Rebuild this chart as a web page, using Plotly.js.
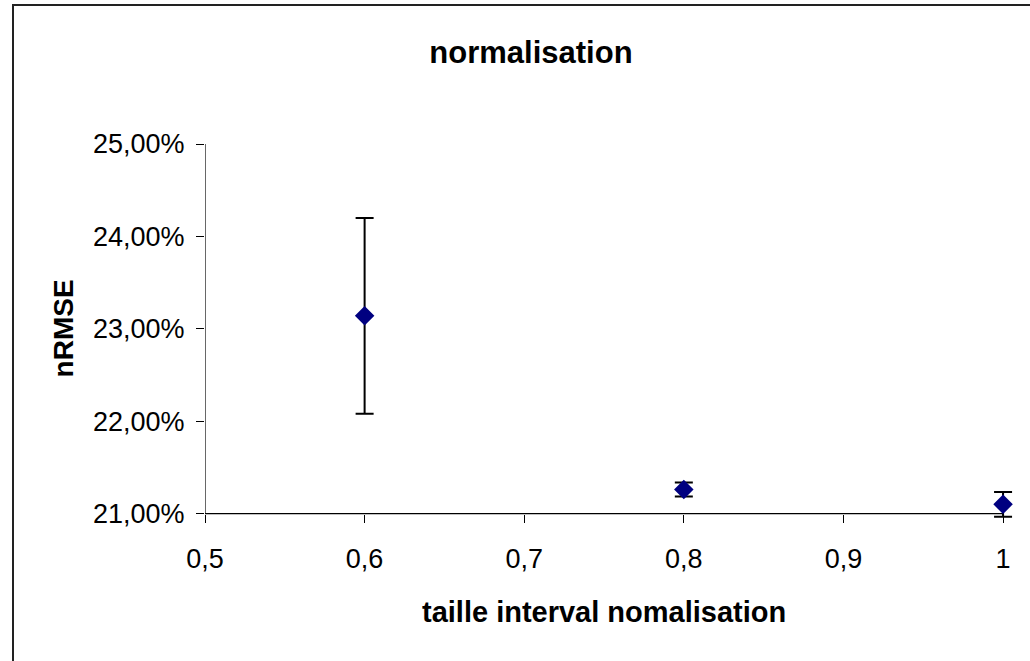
<!DOCTYPE html>
<html>
<head>
<meta charset="utf-8">
<script src="https://cdn.plot.ly/plotly-3.0.1.min.js"></script>
<style>
html,body{margin:0;padding:0;background:#fff;overflow:hidden;}
#wrap{position:relative;width:1030px;height:661px;}
#chart{position:absolute;left:0;top:0;width:1030px;height:661px;}
#frame{position:absolute;left:12px;top:4px;width:1030px;height:700px;border-left:2px solid #222;border-top:2px solid #222;pointer-events:none;}
</style>
</head>
<body>
<div id="wrap"><div id="chart"></div><div id="frame"></div></div>
<script>
const xValues = [0.6, 0.8, 1.0];
const yValues = [0.2314, 0.2126, 0.2110];
const yErrors = [0.0106, 0.00076, 0.00135];
const yTicks = [0.21, 0.22, 0.23, 0.24, 0.25];
const xTicks = [0.5, 0.6, 0.7, 0.8, 0.9, 1.0];

const trace = {
  x: xValues,
  y: yValues,
  type: 'scatter',
  mode: 'markers',
  marker: {symbol: 'diamond', size: 15, color: '#000080'},
  error_y: {type: 'data', array: yErrors, visible: true, color: '#000000', thickness: 2, width: 9},
  showlegend: false,
  cliponaxis: false
};

// extend ranges a little so the error-bar caps at the edges are not clipped
const yLo = 0.2092, yHi = 0.25;
const xLo = 0.5, xHi = 1.015;

const layout = {
  width: 1030, height: 661,
  margin: {l: 205, r: 3, t: 144, b: 140},
  paper_bgcolor: '#ffffff', plot_bgcolor: 'rgba(0,0,0,0)',
  separators: ', ',
  font: {family: 'Liberation Sans, Arial, sans-serif', color: '#000000'},
  title: {text: '<b>normalisation</b>', font: {size: 31}, x: 0.5155, xanchor: 'center', y: 0.921, yanchor: 'middle'},
  xaxis: {
    range: [xLo, xHi], tickvals: xTicks, showgrid: false, zeroline: false,
    showline: false, ticks: 'outside', ticklen: 8, tickcolor: '#000', tickwidth: 1,
    anchor: 'free', position: (yTicks[0] - yLo) / (yHi - yLo),
    tickfont: {size: 27}, ticklabelstandoff: 13, automargin: false
  },
  yaxis: {
    range: [yLo, yHi], tickvals: yTicks, tickformat: '.2%', showgrid: false, zeroline: false,
    showline: false, ticks: 'outside', ticklen: 8, tickcolor: '#000', tickwidth: 1,
    tickfont: {size: 27}, ticklabelstandoff: 6, automargin: false
  },
  annotations: [
    {text: '<b>taille interval nomalisation</b>', font: {size: 29},
     xref: 'x', x: (xTicks[0] + xTicks[xTicks.length - 1]) / 2, xanchor: 'center',
     yref: 'paper', y: -0.242, yanchor: 'middle', showarrow: false},
    {text: '<b>nRMSE</b>', font: {size: 28}, textangle: -90,
     xref: 'paper', x: -0.172, xanchor: 'center',
     yref: 'y', y: (yTicks[0] + yTicks[yTicks.length - 1]) / 2, yanchor: 'middle', showarrow: false}
  ],
  shapes: [
    {type: 'line', xref: 'x', yref: 'y', x0: xTicks[0], x1: xTicks[xTicks.length - 1], y0: yTicks[0], y1: yTicks[0], line: {color: '#000', width: 1.2}, layer: 'below'},
    {type: 'line', xref: 'x', yref: 'y', x0: xTicks[0], x1: xTicks[0], y0: yTicks[0], y1: yTicks[yTicks.length - 1], line: {color: '#000', width: 1.2}, layer: 'below'}
  ]
};

Plotly.newPlot('chart', [trace], layout, {displayModeBar: false, staticPlot: true});
</script>
</body>
</html>
